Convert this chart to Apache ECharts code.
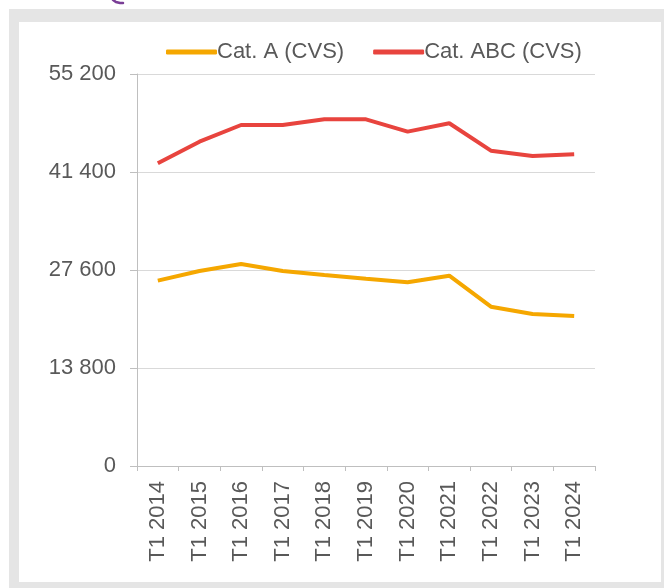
<!DOCTYPE html>
<html>
<head>
<meta charset="utf-8">
<script src="https://cdn.jsdelivr.net/npm/echarts@6/dist/echarts.min.js"></script>
<style>
html,body{margin:0;padding:0;background:#fff;}
#c{width:664px;height:588px;}
</style>
</head>
<body>
<div id="c"></div>
<script>
var categories = ['T1 2014','T1 2015','T1 2016','T1 2017','T1 2018','T1 2019','T1 2020','T1 2021','T1 2022','T1 2023','T1 2024'];
var seriesNames = ['Cat. A (CVS)', 'Cat. ABC (CVS)'];
var catA = [26100, 27450, 28450, 27450, 26900, 26380, 25870, 26800, 22430, 21400, 21120];
var catABC = [42620, 45670, 48020, 48020, 48820, 48820, 47080, 48260, 44400, 43650, 43890];
var yTicks = [0, 13800, 27600, 41400, 55200];

var chart = echarts.init(document.getElementById('c'), null, {renderer: 'canvas'});
var txt = '#595959';
var font = "'Liberation Sans', Arial, sans-serif";
chart.setOption({
  animation: false,
  backgroundColor: 'transparent',
  graphic: [
    {type: 'rect', z: -100, silent: true, shape: {x: 9, y: 9, width: 655, height: 579}, style: {fill: '#E5E5E5'}},
    {type: 'rect', z: -99, silent: true, shape: {x: 19, y: 22, width: 642, height: 560}, style: {fill: '#FFFFFF'}},
    {type: 'polyline', z: -98, silent: true, shape: {points: [[113, 0], [116, 2], [120, 3], [123, 3]]}, style: {stroke: '#7A3E96', lineWidth: 2.5, fill: null, lineCap: 'round'}}
  ],
  legend: {
    left: 161,
    top: 36,
    itemWidth: 51,
    itemHeight: 5,
    itemGap: 29,
    icon: 'roundRect',
    textStyle: {color: txt, fontSize: 22, fontFamily: font, padding: [0, 0, 0, -5]},
    data: seriesNames
  },
  grid: {left: 137, right: 69, top: 74, bottom: 122, containLabel: false},
  xAxis: {
    type: 'category',
    data: categories,
    boundaryGap: true,
    axisLine: {lineStyle: {color: '#BFBFBF', width: 1}},
    axisTick: {show: true, length: 5, alignWithLabel: false, lineStyle: {color: '#BFBFBF'}},
    axisLabel: {rotate: 90, margin: 15, color: txt, fontSize: 22, fontFamily: font, interval: 0}
  },
  yAxis: {
    type: 'value',
    min: 0,
    max: 55200,
    interval: 13800,
    axisLine: {show: true, lineStyle: {color: '#BFBFBF', width: 1}},
    axisTick: {show: true, length: 7, lineStyle: {color: '#BFBFBF'}},
    splitLine: {show: true, lineStyle: {color: '#D9D9D9', width: 1}},
    axisLabel: {
      margin: 21, color: txt, fontSize: 22, fontFamily: font,
      formatter: function (v) { return String(v).replace(/\B(?=(\d{3})+(?!\d))/g, ' '); }
    }
  },
  series: [
    {name: seriesNames[0], type: 'line', data: catA, symbol: 'none', lineStyle: {width: 4, color: '#F5A700'}, itemStyle: {color: '#F5A700'}},
    {name: seriesNames[1], type: 'line', data: catABC, symbol: 'none', lineStyle: {width: 4, color: '#E8443E'}, itemStyle: {color: '#E8443E'}}
  ]
});
</script>
</body>
</html>
